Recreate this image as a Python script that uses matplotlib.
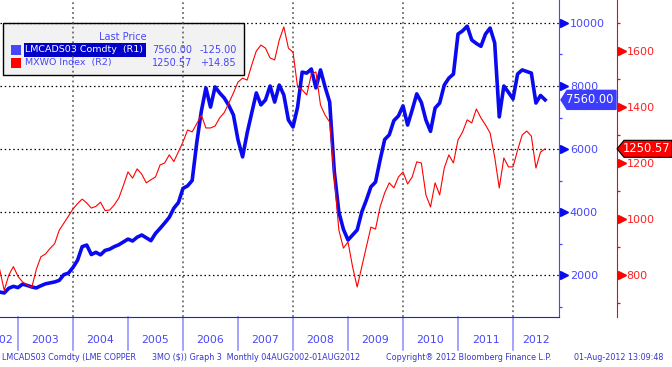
import matplotlib
matplotlib.use("Agg")
import matplotlib.pyplot as plt
import matplotlib.transforms as mtransforms
from matplotlib.patches import Polygon, Rectangle
import pandas as pd

W, H = 672, 367

dates = pd.date_range("2002-08-01", "2012-08-01", freq="MS")

# LMCADS03 Comdty, monthly last price (R1)
copper = [
    1480, 1460, 1430, 1580, 1640, 1600, 1710, 1670, 1620, 1590,
    1660, 1720, 1750, 1780, 1830, 2010, 2060, 2240, 2470, 2900,
    2950, 2650, 2720, 2640, 2780, 2820, 2900, 2960, 3050, 3140,
    3080, 3200, 3270, 3180, 3090, 3320, 3480, 3650, 3830, 4120,
    4300, 4750, 4830, 5000, 6200, 7200, 7940, 7330, 7970, 7780,
    7620, 7380, 7080, 6290, 5750, 6510, 7150, 7780, 7400, 7560,
    8000, 7490, 8030, 7715, 6920, 6700, 7330, 8440, 8410, 8540,
    7940, 8510, 7970, 7490, 5300, 4000, 3450, 3110, 3270, 3430,
    4000, 4380, 4800, 4950, 5650, 6300, 6450, 6900, 7050, 7370,
    6760, 7240, 7750, 7480, 6920, 6560, 7300, 7460, 8030, 8250,
    8380, 9650, 9750, 9900, 9460, 9350, 9260, 9650, 9840, 9370,
    7020, 8000, 7800, 7590, 8380, 8510, 8460, 8410, 7460, 7700,
    7560,
]

# MXWO Index, monthly last price (R2)
mxwo = [
    850, 820, 745, 800, 830, 795, 775, 765, 755, 820,
    865, 875, 895, 912, 960, 985, 1010, 1036, 1055, 1071,
    1057, 1039, 1045, 1060, 1030, 1032, 1050, 1075, 1120, 1168,
    1146, 1179, 1160, 1129, 1140, 1150, 1193, 1200, 1229, 1205,
    1240, 1275, 1318, 1311, 1340, 1371, 1325, 1325, 1332, 1361,
    1380, 1414, 1450, 1489, 1503, 1496, 1550, 1600, 1621, 1610,
    1575, 1568, 1639, 1686, 1610, 1596, 1471, 1461, 1443, 1518,
    1525, 1407, 1371, 1346, 1150, 961, 896, 918, 829, 757,
    829, 900, 971, 964, 1043, 1093, 1129, 1111, 1150, 1168,
    1125, 1150, 1204, 1200, 1086, 1043, 1129, 1086, 1182, 1229,
    1200, 1282, 1311, 1354, 1343, 1393, 1361, 1336, 1307, 1221,
    1111, 1218, 1186, 1186, 1246, 1300, 1314, 1296, 1182, 1239,
    1250.57,
]

years = list(range(2002, 2013))
grid_years = [2004, 2006, 2008, 2010, 2012]
r1_major = [2000, 4000, 6000, 8000, 10000]
r1_minor = [1000, 3000, 5000, 7000, 9000]
r2_major = [800, 1000, 1200, 1400, 1600]
r2_minor = [700, 900, 1100, 1300, 1500, 1700]

legend_rows = [
    ("LMCADS03 Comdty  (R1)", "7560.00", "-125.00"),
    ("MXWO Index  (R2)", "1250.57", "+14.85"),
]
footer = [
    (2, "LMCADS03 Comdty (LME COPPER"),
    (152, "3MO ($)) Graph 3  Monthly 04AUG2002-01AUG2012"),
    (386, "Copyright\u00ae 2012 Bloomberg Finance L.P."),
    (574, "01-Aug-2012 13:09:48"),
]

BLUE = "#0a0af0"
BLUE_TXT = "#4646ff"
RED = "#ff0000"
SEP = "#8a8aff"

plt.rcParams["font.family"] = ["DejaVu Sans"]


def fx(x):
    return x / W


def fy(y):
    return 1 - y / H


t = dates.year + (dates.month - 1) / 12.0

fig = plt.figure(figsize=(W / 100, H / 100), dpi=100)
ax_w, ax_h = 559, 317
ax = fig.add_axes([0, fy(ax_h), fx(ax_w), ax_h / H])
ax2 = ax.twinx()
ax.yaxis.tick_right()

ax.set_xlim(2002.673, 2012.836)
ax.set_ylim(667, 10730)
ax2.set_ylim(650, 1782)
ax.set_xticks([])

# series
ax.plot(t, copper, color=BLUE, lw=2.6, zorder=3, solid_joinstyle="round")
ax2.plot(t, mxwo, color=RED, lw=0.8)

# grid
for v in r1_major:
    ax.axhline(v, color="black", lw=0.9, ls=(0, (1.2, 2.2)), zorder=2)
for yr in grid_years:
    ax.axvline(yr, color="#555555", lw=1.1, ls=(0, (1.2, 2.0)), zorder=2)

# spines
for s in ["top", "left"]:
    ax.spines[s].set_visible(False)
    ax2.spines[s].set_visible(False)
ax2.spines["bottom"].set_visible(False)
ax.spines["bottom"].set_color("#2020e0")
ax.spines["right"].set_color(BLUE_TXT)
ax2.spines["right"].set_position(("axes", 617 / ax_w))
ax2.spines["right"].set_color(RED)

# y ticks
ax.set_yticks(r1_major)
ax.set_yticks(r1_minor, minor=True)
ax.tick_params(axis="y", which="major", length=0, pad=7.8, labelsize=8,
               labelcolor=BLUE_TXT)
ax.tick_params(axis="y", which="minor", length=2.5, width=0.9,
               color=BLUE_TXT, direction="out")
ax2.set_yticks(r2_major)
ax2.set_yticks(r2_minor, minor=True)
ax2.tick_params(axis="y", which="major", length=0, pad=6.8, labelsize=8,
                labelcolor="#ff2020")
ax2.tick_params(axis="y", which="minor", length=2.5, width=0.9,
                color=RED, direction="out")

tr1 = mtransforms.blended_transform_factory(ax.transAxes, ax.transData)
tr2 = mtransforms.blended_transform_factory(ax2.transAxes, ax2.transData)
ax.plot([1 + 4.5 / ax_w] * len(r1_major), r1_major, ls="none", marker=">",
        ms=5.5, color=BLUE, transform=tr1, clip_on=False)
ax2.plot([(617 + 4.5) / ax_w] * len(r2_major), r2_major, ls="none", marker=">",
         ms=5.5, color=RED, transform=tr2, clip_on=False)

# year separators and labels
trx = mtransforms.blended_transform_factory(ax.transData, ax.transAxes)
x0, x1 = ax.get_xlim()
for yr in years:
    if yr > x0:
        ax.plot([yr, yr], [0, -33 / ax_h], color=SEP, lw=1.1,
                transform=trx, clip_on=False)
    mid = (max(yr, 2002.3) + min(yr + 1, x1)) / 2
    ax.text(mid, -23 / ax_h, str(yr), transform=trx, ha="center", va="center",
            fontsize=7.8, color=BLUE_TXT, clip_on=False)

# legend box
ax.add_patch(Rectangle((fx(3), fy(75)), fx(241), 52 / H, transform=fig.transFigure,
                       facecolor="#f2f2f2", edgecolor="black", lw=1, zorder=1,
                       clip_on=False))
ax.text(fx(123), fy(37), "Last Price", transform=fig.transFigure, ha="center",
        va="center", fontsize=7, color=BLUE_TXT, zorder=4)
ax.add_patch(Rectangle((fx(24), fy(57)), fx(122), 14 / H, transform=fig.transFigure,
                       facecolor="#0000c8", edgecolor="none", zorder=1.5,
                       clip_on=False))
for k, (name, last, chg) in enumerate(legend_rows):
    yc = 50 + 13 * k
    col = BLUE_TXT if k == 0 else RED
    ax.add_patch(Rectangle((fx(11), fy(yc + 5)), fx(10), 10 / H,
                           transform=fig.transFigure, facecolor=col,
                           edgecolor="none", zorder=4, clip_on=False))
    ax.text(fx(25), fy(yc), name, transform=fig.transFigure, va="center",
            fontsize=6.8, color="white" if k == 0 else BLUE_TXT, zorder=4)
    ax.text(fx(152), fy(yc), last, transform=fig.transFigure, va="center",
            fontsize=7, color=BLUE_TXT, zorder=4)
    ax.text(fx(200), fy(yc), chg, transform=fig.transFigure, va="center",
            fontsize=7, color=BLUE_TXT, zorder=4)

# last price tags
inv = fig.transFigure.inverted()
yb = inv.transform(ax.transData.transform((x0, copper[-1])))[1]
yr_ = inv.transform(ax2.transData.transform((x0, mxwo[-1])))[1]
hb, hr = 9.5 / H, 8.5 / H
fig.add_artist(Polygon([(fx(561), yb), (fx(567), yb + hb), (fx(616), yb + hb),
                        (fx(616), yb - hb), (fx(567), yb - hb)],
                       closed=True, facecolor="#3c3cff", edgecolor="#3c3cff",
                       transform=fig.transFigure))
fig.text(fx(590), yb, f"{copper[-1]:.2f}", ha="center", va="center",
         fontsize=8.3, color="white")
fig.add_artist(Polygon([(fx(617), yr_), (fx(624), yr_ + hr), (fx(672), yr_ + hr),
                        (fx(672), yr_ - hr), (fx(624), yr_ - hr)],
                       closed=True, facecolor=RED, edgecolor="black", lw=0.8,
                       transform=fig.transFigure))
fig.text(fx(647), yr_, f"{mxwo[-1]:.2f}", ha="center", va="center",
         fontsize=8.3, color="white")

# footer
for xp, txt in footer:
    fig.text(fx(xp), fy(358), txt, ha="left", va="center", fontsize=5.8,
             color="#3535d0")

fig.savefig("out.png", dpi=100)
